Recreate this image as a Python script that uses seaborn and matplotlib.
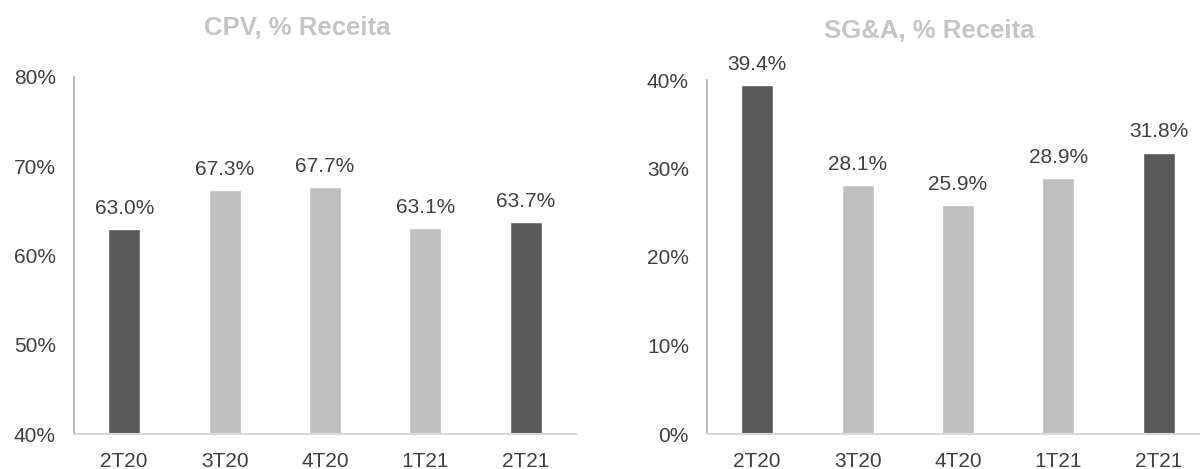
import matplotlib
matplotlib.use("Agg")
import matplotlib.pyplot as plt
import seaborn as sns
import pandas as pd

quarters = ["2T20", "3T20", "4T20", "1T21", "2T21"]
cpv_pct = [63.0, 67.3, 67.7, 63.1, 63.7]
sga_pct = [39.4, 28.1, 25.9, 28.9, 31.8]
highlight = ["2T20", "2T21"]

DARK = "#595959"
LIGHT = "#BFBFBF"
TEXT = "#404040"
TITLE = "#C4C4C4"

sns.set_theme(style="white")
plt.rcParams["font.family"] = ["Liberation Sans", "DejaVu Sans"]

fig = plt.figure(figsize=(12, 4.69), dpi=100)
W, H = 1200, 469

palette = {q: (DARK if q in highlight else LIGHT) for q in quarters}


def panel(rect, values, ylim, yticks, title, title_xy):
    ax = fig.add_axes(rect)
    df = pd.DataFrame({"quarter": quarters, "value": values})
    sns.barplot(data=df, x="quarter", y="value", hue="quarter", palette=palette,
                legend=False, width=0.32, ax=ax, saturation=1)
    ax.set_xlim(-0.5, 4.5)
    ax.set_ylim(*ylim)
    ax.set_yticks(yticks)
    ax.set_yticklabels([f"{t:.0f}%" for t in yticks])
    ax.set_xlabel("")
    ax.set_ylabel("")
    ax.tick_params(axis="both", length=0, labelsize=15, labelcolor=TEXT, pad=13)
    for s in ["top", "right"]:
        ax.spines[s].set_visible(False)
    ax.spines["left"].set_color("#ABABAB")
    ax.spines["left"].set_linewidth(1.2)
    ax.spines["bottom"].set_color("#D9D9D9")
    ax.spines["bottom"].set_linewidth(1.5)
    for i, v in enumerate(values):
        ax.annotate(f"{v:.1f}%", (i, v), xytext=(0, 8), textcoords="offset points",
                    ha="center", va="bottom", fontsize=15, color=TEXT)
    fig.text(title_xy[0] / W, 1 - title_xy[1] / H, title, ha="center", va="center",
             fontsize=18.5, fontweight="bold", color=TITLE)
    return ax


panel([74 / W, 35 / H, 502 / W, (434 - 77) / H], cpv_pct, (40, 80),
      [40, 50, 60, 70, 80], "CPV, % Receita", (297, 28))
panel([707 / W, 35 / H, 502 / W, (434 - 80) / H], sga_pct, (0, 40),
      [0, 10, 20, 30, 40], "SG&A, % Receita", (929, 31))

fig.savefig("out.png", dpi=100)
